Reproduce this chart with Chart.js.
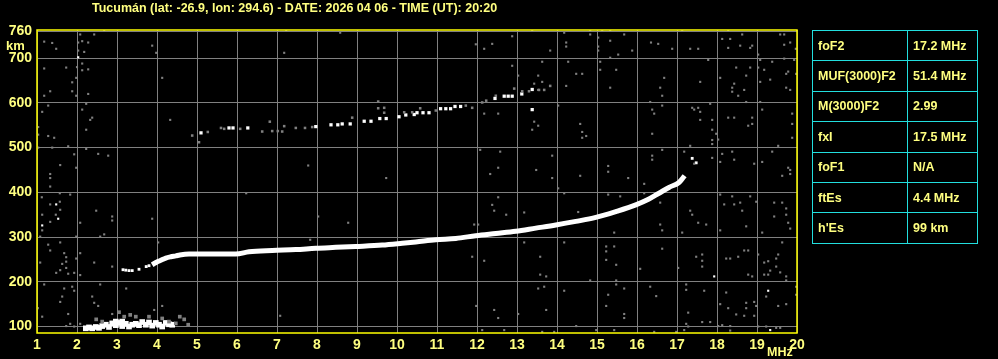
<!DOCTYPE html>
<html><head><meta charset="utf-8">
<script src="https://cdn.jsdelivr.net/npm/chart.js@4/dist/chart.umd.min.js"></script>
<style>
html,body{margin:0;padding:0;background:#000;}
#wrap{position:relative;width:998px;height:359px;overflow:hidden;background:#000;font-family:"Liberation Sans",Arial,sans-serif;font-weight:bold;color:#ffff80;}
#c{position:absolute;left:0;top:0;}
.t{position:absolute;white-space:nowrap;line-height:1;}
#tbl{position:absolute;left:812px;top:30px;width:166px;height:213px;border-collapse:collapse;}
#tbl td{border:1px solid #22dede;padding:0 0 0 5px;font-size:12.5px;height:29.4px;color:#ffff80;}
#tbl td.k{width:89px;}
</style></head>
<body>
<div id="wrap">
<canvas id="c" width="998" height="359"></canvas>
<div class="t" id="title" style="left:92px;top:2px;font-size:12.5px;"></div>
<div class="t" style="left:6px;top:39px;font-size:13px;">km</div>
<div class="t" style="left:767px;top:346px;font-size:12.5px;">MHz</div>
<table id="tbl"></table>
</div>
<script>
// ---------- data ----------
const titleText = "Tucumán (lat: -26.9, lon: 294.6) - DATE: 2026 04 06 - TIME (UT): 20:20";
const tableLabels = ["foF2","MUF(3000)F2","M(3000)F2","fxI","foF1","ftEs","h'Es"];
const tableValues = ["17.2 MHz","51.4 MHz","2.99","17.5 MHz","N/A","4.4 MHz","99 km"];
const xTicks = [1,2,3,4,5,6,7,8,9,10,11,12,13,14,15,16,17,18,19,20];
const yTicks = [100,200,300,400,500,600,700,760];

// F2 trace (frequency MHz, virtual height km)
const f2Trace = [[3.88,238],[4.01,245],[4.07,247],[4.22,253],[4.35,256],[4.47,258],[4.57,260],[4.80,262],[5.07,262],[5.5,262],[5.97,262],[6.30,267],[6.88,270],[7.47,272],[7.97,275],[8.47,277],[8.97,279],[9.63,282],[10.13,286],[10.47,289],[10.97,294],[11.47,297],[11.97,303],[12.47,308],[12.97,313],[13.47,320],[13.97,327],[14.47,335],[14.97,344],[15.47,357],[15.97,372],[16.30,385],[16.55,398],[16.80,411],[17.05,422],[17.13,430],[17.19,437]];
const f2Low = [[3.15,227],[3.22,226],[3.30,225],[3.38,225],[3.55,228],[3.73,234],[3.80,236],[17.38,476],[17.48,466]];
// second-hop trace
const f2HopWhite = [[5.10,533],[5.80,544],[5.90,544],[6.27,544],[7.97,547],[8.35,551],[8.52,551],[8.63,553],[8.83,553],[9.18,559],[9.35,559],[9.57,565],[9.73,565],[10.05,569],[10.22,573],[10.43,574],[10.50,578],[10.65,578],[10.80,578],[11.09,587],[11.22,587],[11.34,587],[11.45,592],[11.59,592],[12.45,610],[12.68,615],[12.78,615],[12.88,615],[13.12,620],[13.38,630],[13.38,585]];
const f2HopGray = [[4.88,527],[5.05,512],[5.27,535],[5.60,544],[5.68,542],[6.08,542],[6.63,536],[6.82,558],[6.88,537],[7.02,537],[7.13,536],[7.18,548],[7.47,544],[7.70,544],[7.88,546],[8.88,567],[9.53,603],[9.53,588],[9.68,589],[9.68,578],[10.18,579],[10.38,579],[10.58,588],[10.97,583],[11.72,594],[11.88,589],[12.13,601],[12.23,605],[12.47,616],[12.93,632],[13.13,626],[13.30,626],[13.55,629],[13.68,629],[13.83,638]];
// sporadic E
const esWhite = [[2.22,96],[2.30,98],[2.38,96],[2.47,99],[2.55,97],[2.63,101],[2.72,104],[2.80,99],[2.88,107],[2.97,103],[2.97,111],[3.05,108],[3.13,101],[3.13,111],[3.22,106],[3.30,100],[3.38,104],[3.47,106],[3.55,103],[3.63,110],[3.72,104],[3.80,109],[3.88,102],[3.97,108],[4.05,104],[4.13,100],[4.22,108],[4.30,105],[4.38,104]];
const esGray = [[2.48,116],[2.63,111],[3.05,132],[3.18,122],[3.33,126],[3.47,122],[3.80,122],[4.13,118],[4.30,111],[4.47,107],[4.57,122],[4.68,116],[4.78,104]];
// isolated echoes / noise
const noiseWhite = [[2.03,702],[1.48,373],[1.53,341],[1.13,326],[17.93,212],[19.28,180],[19.33,92]];
const noiseGray = [[1.18,737],[1.38,734],[1.48,721],[2.08,753],[2.43,753],[2.68,762],[2.03,735],[2.13,738],[2.28,735],[2.03,717],[2.18,714],[2.13,688],[2.00,680],[2.13,673],[2.28,675],[1.18,677],[1.73,679],[1.98,656],[1.88,646],[1.33,626],[1.18,616],[1.88,626],[1.98,616],[2.28,620],[1.28,594],[1.13,580],[2.23,598],[2.13,585],[2.33,562],[2.38,567],[2.23,540],[1.03,546],[1.03,529],[1.28,526],[1.43,522],[1.78,503],[1.03,500],[1.38,500],[1.93,485],[2.23,497],[2.53,486],[2.78,482],[1.58,461],[1.98,455],[1.33,441],[1.33,432],[3.88,728],[3.98,712],[4.13,656],[4.33,562],[7.23,762],[7.18,712],[8.58,757],[7.78,460],[9.73,432],
[11.97,731],[12.18,721],[12.38,732],[12.88,749],[13.38,762],[13.83,717],[14.18,757],[14.23,735],[14.23,726],[14.83,762],[14.83,753],[15.03,746],[15.03,726],[15.03,717],[15.13,762],[15.33,762],[15.33,739],[15.53,708],[15.68,753],[15.88,717],[15.33,701],[16.35,735],[16.53,732],[16.88,721],[17.13,762],[17.33,721],[17.53,721],[18.28,762],[18.28,723],[18.13,743],[18.33,743],[18.63,753],[18.58,728],[18.83,723],[18.88,728],[19.03,708],[19.58,753],[19.68,753],[19.83,735],[19.68,730],[19.97,721],
[12.88,683],[13.63,692],[14.28,692],[14.48,665],[14.63,665],[15.08,692],[15.08,674],[15.48,674],[16.68,656],[16.58,634],[15.33,634],[16.63,616],[17.78,696],[18.08,656],[17.58,647],[18.48,679],[18.73,661],[18.83,679],[19.03,679],[19.08,696],[19.18,674],[19.38,692],[19.68,699],[19.93,696],[19.78,670],[19.73,665],[19.98,665],[19.33,652],[19.08,647],[18.43,643],[18.38,634],[18.38,625],[18.53,616],[18.68,629],[18.73,602],[19.08,602],[19.73,634],[19.83,629],
[13.03,661],[13.43,643],[13.53,661],[13.63,647],[13.53,629],[14.03,594],[14.23,638],[12.18,576],[12.53,576],[13.43,558],[13.53,549],[13.38,540],[14.58,553],[14.63,535],[14.73,526],[14.63,522],[16.33,602],[16.38,585],[16.43,576],[16.63,594],[17.38,589],[17.43,585],[17.53,589],[17.58,580],[17.83,598],[17.58,562],[17.88,562],[17.88,540],[17.88,517],[18.03,518],[17.98,531],[17.88,508],[18.28,567],[18.43,567],[18.88,567],[19.13,585],[19.88,576],[19.88,553],[18.78,549],[18.88,553],[16.38,531],[17.33,504],[16.63,495],[16.38,482],[16.38,473],[17.18,491],[17.43,464],[17.88,477],[18.13,486],[18.38,491],[18.43,473],[18.08,468],[18.93,464],[19.13,468],[19.38,491],[19.53,504],[19.78,455],[19.83,450],[19.83,441],[19.63,437],[19.88,522],[12.08,495],[12.58,491],[13.88,482],[13.48,450],[12.53,455],[12.33,441],[13.88,432],[14.58,437],[15.28,459],[15.28,446],[15.78,432],
[1.33,413],[1.57,398],[1.83,395],[1.12,389],[1.33,373],[1.57,379],[1.13,350],[1.33,334],[1.58,361],[1.47,350],[1.13,315],[1.08,301],[2.48,359],[2.08,332],[2.88,346],[2.88,337],[3.88,341],[6.23,398],[8.03,346],[8.78,332],[7.83,294],[4.03,288],[1.28,283],[1.33,270],[1.58,288],[1.68,264],[1.73,255],[1.73,245],[1.63,240],[1.58,226],[1.73,231],[1.78,218],[1.48,220],[1.93,220],[1.98,252],[2.08,264],[2.08,215],[1.08,243],[2.43,243],[2.88,234],[2.58,301],[2.68,306],[1.98,301],[1.18,194],[1.68,185],[1.88,189],[1.93,180],[1.63,167],[1.58,155],[1.13,122],[1.78,128],[1.83,106],[2.58,194],[3.23,185],[2.38,167],[2.43,153],[2.53,146],[2.88,128],[3.93,137],[4.13,146],[7.08,124],[1.73,101],[1.93,100],[2.08,106],[1.02,141],
[12.53,389],[12.38,372],[12.43,359],[12.73,350],[13.18,355],[11.93,328],[12.03,328],[14.18,288],[14.03,409],[14.18,398],[14.53,356],[15.28,395],[15.58,391],[16.18,419],[16.18,398],[16.58,377],[16.58,328],[16.63,315],[17.13,310],[15.43,310],[15.23,279],[15.23,268],[15.23,249],[15.43,279],[15.48,238],[14.83,203],[15.48,203],[15.48,194],[15.68,185],[15.28,171],[15.23,146],[15.68,128],[15.68,119],[16.08,229],[16.33,189],[16.48,168],[16.63,274],[17.03,231],[17.23,194],[17.23,182],[17.28,131],[17.23,106],[17.28,100],[17.63,261],[17.63,247],[17.63,234],[17.48,256],[17.68,180],[17.83,110],[17.63,110],[18.08,395],[18.18,373],[18.38,391],[18.43,373],[18.58,377],[18.63,359],[18.83,391],[18.98,379],[19.43,377],[19.63,377],[19.73,364],[19.43,346],[19.73,350],[19.78,332],[19.83,319],[19.13,310],[19.63,288],[18.08,315],[18.73,324],[17.53,332],[17.73,328],[17.33,359],[17.38,350],[18.33,252],[18.23,252],[18.53,256],[18.68,270],[18.78,270],[19.03,261],[19.18,243],[19.28,246],[19.33,225],[19.48,252],[19.53,261],[19.48,234],[19.18,216],[19.28,216],[19.58,221],[19.73,212],[19.73,203],[18.78,216],[18.88,212],[19.98,189],[19.98,171],[19.23,167],[19.53,146],[19.73,150],[18.93,155],[18.73,153],[18.73,141],[18.23,176],[18.08,150],[18.28,141],[18.48,127],[18.68,124],[18.98,146],[18.93,124],[19.23,100],[19.58,97],[18.33,101],[18.13,103],[11.88,256],[12.18,247],[13.58,256],[13.58,216],[13.73,212],[13.53,185],[13.68,189],[14.18,180],[13.18,288],[11.98,146],[12.43,137],[13.73,137],[13.03,128],[12.53,119],[12.13,92],[12.68,92],[13.63,88],[13.93,88],[14.48,101],[14.98,92],[15.43,92],[16.43,88],[16.98,88],[17.18,92],[18.03,101],[18.33,91],[19.48,97],[19.03,100]];

// ---------- build ----------
document.getElementById('title').textContent = titleText;
const tbl = document.getElementById('tbl');
tableLabels.forEach((l,i)=>{
  const tr = document.createElement('tr');
  const a = document.createElement('td'); a.className='k'; a.textContent = l;
  const b = document.createElement('td'); b.textContent = tableValues[i];
  tr.appendChild(a); tr.appendChild(b); tbl.appendChild(tr);
});
const pts = arr => arr.map(p=>({x:p[0],y:p[1]}));
const GRAY = '#808080', WHITE = '#ffffff', YEL = '#ffff80';
const sc = (data,color,r) => ({type:'scatter',data:pts(data),backgroundColor:color,borderWidth:0,pointStyle:'rect',pointRadius:r,pointHoverRadius:r,showLine:false});

const borderPlugin = {
  id:'border',
  afterDatasetsDraw(chart){
    const a = chart.chartArea, ctx = chart.ctx;
    ctx.save(); ctx.strokeStyle = '#ffff00'; ctx.lineWidth = 1.5;
    ctx.strokeRect(a.left, a.top, a.right-a.left, a.bottom-a.top);
    ctx.restore();
  }
};

new Chart(document.getElementById('c'), {
  type:'scatter',
  data:{datasets:[
    sc(noiseGray,GRAY,1.5),
    sc(f2HopGray,GRAY,1.8),
    sc(esGray,GRAY,2.6),
    sc(noiseWhite,WHITE,1.5),
    sc(f2HopWhite,WHITE,2.3),
    sc(esWhite,WHITE,4),
    sc(f2Low,WHITE,2),
    {type:'line',data:pts(f2Trace),borderColor:WHITE,borderWidth:5,pointRadius:0,cubicInterpolationMode:'monotone',fill:false}
  ]},
  options:{
    responsive:false, animation:false, events:[],
    layout:{padding:{left:0,right:201,top:30,bottom:0}},
    plugins:{legend:{display:false},tooltip:{enabled:false}},
    scales:{
      x:{type:'linear',min:1,max:20,
        afterBuildTicks(s){ s.ticks = xTicks.map(v=>({value:v})); },
        afterFit(s){ s.height = 26; },
        grid:{color:GRAY,lineWidth:1,drawTicks:false},
        border:{display:false},
        ticks:{color:YEL,padding:4,font:{family:'"Liberation Sans", Arial, sans-serif',weight:'bold',size:14},maxRotation:0,autoSkip:false}
      },
      y:{type:'linear',min:85.5,max:763,
        afterBuildTicks(s){ s.ticks = yTicks.map(v=>({value:v})); },
        afterFit(s){ s.width = 37; },
        grid:{color:GRAY,lineWidth:1,drawTicks:false},
        border:{display:false},
        ticks:{color:YEL,padding:5,font:{family:'"Liberation Sans", Arial, sans-serif',weight:'bold',size:14},autoSkip:false}
      }
    }
  },
  plugins:[borderPlugin]
});
</script>
</body></html>
